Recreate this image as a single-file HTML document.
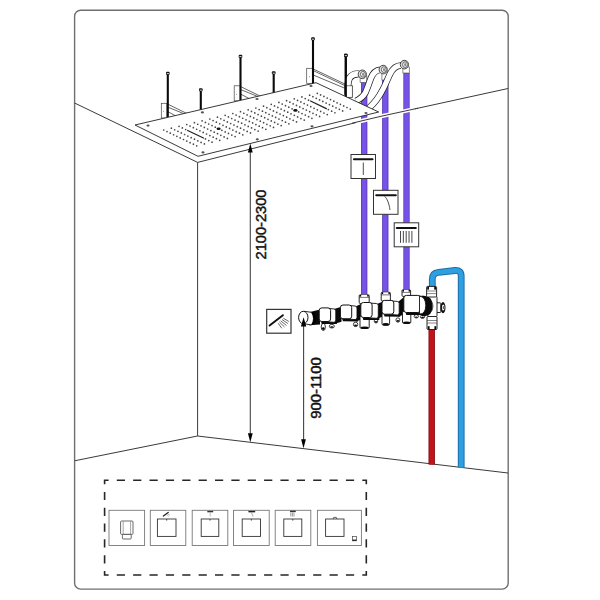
<!DOCTYPE html>
<html><head><meta charset="utf-8"><style>
html,body{margin:0;padding:0;background:#fff;}
svg{display:block;}
</style></head><body>
<svg width="600" height="600" viewBox="0 0 600 600">
<rect x="74.6" y="10.3" width="433.6" height="578.8" rx="6" ry="6" fill="none" stroke="#6f6f6f" stroke-width="1.4"/>
<g stroke="#3a3a3a" stroke-width="1" fill="none">
<polyline points="74.6,103 197.6,162.4 380,116.5 508,88.5"/>
<line x1="197.6" y1="162.4" x2="197.6" y2="436"/>
<polyline points="74.6,460.8 197.5,436 508,473"/>
</g>
<g stroke="#333" stroke-width="0.75" fill="none"><line x1="167.5" y1="104" x2="190" y2="115"/><line x1="167.5" y1="107" x2="189" y2="115.8"/><line x1="167.5" y1="111.5" x2="179.88" y2="118.05"/></g>
<rect x="161.3" y="103.3" width="5.5" height="14.7" fill="#fff" stroke="#444" stroke-width="0.7"/>
<circle cx="163.55" cy="111.65" r="0.45" fill="#333"/>
<line x1="167.8" y1="73" x2="167.8" y2="117" stroke="#0a0a0a" stroke-width="2.1" />
<rect x="166" y="71.8" width="3.6" height="3" rx="0.9" fill="#111"/>
<rect x="166.7" y="73.2" width="2.2" height="0.9" fill="#eee"/>
<line x1="200.8" y1="89.5" x2="200.8" y2="112" stroke="#0a0a0a" stroke-width="2.1" />
<rect x="199" y="88.3" width="3.6" height="3" rx="0.9" fill="#111"/>
<rect x="199.7" y="89.7" width="2.2" height="0.9" fill="#eee"/>
<g stroke="#333" stroke-width="0.75" fill="none"><line x1="240.5" y1="86.5" x2="262" y2="97"/><line x1="240.5" y1="89.5" x2="261" y2="97.8"/><line x1="240.5" y1="94" x2="252.32" y2="100.28"/></g>
<rect x="234.2" y="85.8" width="6" height="15" fill="#fff" stroke="#444" stroke-width="0.7"/>
<circle cx="236.7" cy="94.3" r="0.45" fill="#333"/>
<line x1="240.5" y1="56" x2="240.5" y2="100" stroke="#0a0a0a" stroke-width="2.1" />
<rect x="238.7" y="54.8" width="3.6" height="3" rx="0.9" fill="#111"/>
<rect x="239.4" y="56.2" width="2.2" height="0.9" fill="#eee"/>
<line x1="273.7" y1="72.5" x2="273.7" y2="95" stroke="#0a0a0a" stroke-width="2.1" />
<rect x="271.9" y="71.3" width="3.6" height="3" rx="0.9" fill="#111"/>
<rect x="272.6" y="72.7" width="2.2" height="0.9" fill="#eee"/>
<g stroke="#333" stroke-width="0.75" fill="none"><line x1="313.7" y1="69.2" x2="347" y2="85"/><line x1="313.7" y1="70.8" x2="347" y2="86.6"/><line x1="313.7" y1="75.2" x2="345.5" y2="88.5"/></g>
<rect x="306.7" y="68.3" width="6.5" height="15" fill="#fff" stroke="#444" stroke-width="0.7"/>
<circle cx="309.45" cy="76.8" r="0.45" fill="#333"/>
<line x1="313" y1="38.5" x2="313" y2="86" stroke="#0a0a0a" stroke-width="2.1" />
<rect x="311.2" y="37.3" width="3.6" height="3" rx="0.9" fill="#111"/>
<rect x="311.9" y="38.7" width="2.2" height="0.9" fill="#eee"/>
<rect x="346" y="85.8" width="6.3" height="11.5" fill="#fff" stroke="#444" stroke-width="0.7"/>
<line x1="345.8" y1="55" x2="345.8" y2="97" stroke="#0a0a0a" stroke-width="2.1" />
<rect x="344" y="53.8" width="3.6" height="3" rx="0.9" fill="#111"/>
<rect x="344.7" y="55.2" width="2.2" height="0.9" fill="#eee"/>
<rect x="361.05" y="82" width="6.3" height="214" fill="#5536b8"/>
<rect x="361.85" y="82" width="4.7" height="214" fill="#7652e6"/>
<rect x="382.15" y="80" width="6.3" height="213" fill="#5536b8"/>
<rect x="382.95" y="80" width="4.7" height="213" fill="#7652e6"/>
<rect x="403.35" y="72" width="6.3" height="218" fill="#5536b8"/>
<rect x="404.15" y="72" width="4.7" height="218" fill="#7652e6"/>
<rect x="360.1" y="76" width="6.8" height="6.5" fill="#fff" stroke="#444" stroke-width="0.6"/>
<line x1="366.6" y1="76" x2="366.6" y2="82.5" stroke="#999" stroke-width="0.9" />
<rect x="381.9" y="72" width="6.8" height="8" fill="#fff" stroke="#444" stroke-width="0.6"/>
<line x1="388.4" y1="72" x2="388.4" y2="80" stroke="#999" stroke-width="0.9" />
<rect x="402.9" y="67" width="6.8" height="6" fill="#fff" stroke="#444" stroke-width="0.6"/>
<line x1="409.4" y1="67" x2="409.4" y2="73" stroke="#999" stroke-width="0.9" />
<path d="M359,74 C355,73.6 351.5,75 349.5,78 C347.8,81 347.5,86 347.5,95" fill="none" stroke="#1a1a1a" stroke-width="7" stroke-linecap="butt" stroke-linejoin="round"/>
<path d="M359,74 C355,73.6 351.5,75 349.5,78 C347.8,81 347.5,86 347.5,95" fill="none" stroke="#fff" stroke-width="5.6" stroke-linecap="butt" stroke-linejoin="round"/>
<path d="M380,69.8 C376,70.3 373,73 371,78 C369,83 367.5,88 365.5,92.5 C363.5,96 360,99 356,101" fill="none" stroke="#1a1a1a" stroke-width="6.6" stroke-linecap="butt" stroke-linejoin="round"/>
<path d="M380,69.8 C376,70.3 373,73 371,78 C369,83 367.5,88 365.5,92.5 C363.5,96 360,99 356,101" fill="none" stroke="#fff" stroke-width="5.2" stroke-linecap="butt" stroke-linejoin="round"/>
<path d="M401,65.5 C396.5,65.5 393,68 390,74 C387.5,79 385,86 382,91 C379,97 375,102.5 369,108" fill="none" stroke="#1a1a1a" stroke-width="6.6" stroke-linecap="butt" stroke-linejoin="round"/>
<path d="M401,65.5 C396.5,65.5 393,68 390,74 C387.5,79 385,86 382,91 C379,97 375,102.5 369,108" fill="none" stroke="#fff" stroke-width="5.2" stroke-linecap="butt" stroke-linejoin="round"/>
<ellipse cx="362.3" cy="74.3" rx="4.1" ry="4.3" fill="#ddd" stroke="#333" stroke-width="0.9"/>
<ellipse cx="362.9" cy="74.3" rx="2.4" ry="2.8" fill="#fff" stroke="#555" stroke-width="0.9"/>
<ellipse cx="363.1" cy="74.3" rx="1.1" ry="1.6" fill="#888"/>
<ellipse cx="383.2" cy="69.6" rx="4.1" ry="4.3" fill="#ddd" stroke="#333" stroke-width="0.9"/>
<ellipse cx="383.8" cy="69.6" rx="2.4" ry="2.8" fill="#fff" stroke="#555" stroke-width="0.9"/>
<ellipse cx="384" cy="69.6" rx="1.1" ry="1.6" fill="#888"/>
<ellipse cx="404.4" cy="64.6" rx="4.1" ry="4.3" fill="#ddd" stroke="#333" stroke-width="0.9"/>
<ellipse cx="405" cy="64.6" rx="2.4" ry="2.8" fill="#fff" stroke="#555" stroke-width="0.9"/>
<ellipse cx="405.2" cy="64.6" rx="1.1" ry="1.6" fill="#888"/>
<rect x="346" y="85.8" width="6.3" height="11.5" fill="#fff" stroke="#444" stroke-width="0.7"/>
<line x1="345.8" y1="55" x2="345.8" y2="97" stroke="#0a0a0a" stroke-width="2.1" />
<rect x="344" y="53.8" width="3.6" height="3" rx="0.9" fill="#111"/>
<rect x="344.7" y="55.2" width="2.2" height="0.9" fill="#eee"/>
<polygon points="135,125 316,82.7 378.7,112 198,156.3" fill="#fff" stroke="#222" stroke-width="0.9"/>
<g fill="#474747"><circle cx="163.7" cy="130" r="0.85"/><circle cx="167" cy="131.58" r="0.85"/><circle cx="170.3" cy="133.16" r="0.85"/><circle cx="173.6" cy="134.74" r="0.85"/><circle cx="176.9" cy="136.32" r="0.85"/><circle cx="180.2" cy="137.9" r="0.85"/><circle cx="183.5" cy="139.48" r="0.85"/><circle cx="186.8" cy="141.06" r="0.85"/><circle cx="190.1" cy="142.64" r="0.85"/><circle cx="193.4" cy="144.22" r="0.85"/><circle cx="196.7" cy="145.8" r="0.85"/><circle cx="171.38" cy="128.16" r="0.85"/><circle cx="174.68" cy="129.75" r="0.85"/><circle cx="177.98" cy="131.32" r="0.85"/><circle cx="181.28" cy="132.91" r="0.85"/><circle cx="184.58" cy="134.48" r="0.85"/><circle cx="187.88" cy="136.06" r="0.85"/><circle cx="191.18" cy="137.65" r="0.85"/><circle cx="194.48" cy="139.22" r="0.85"/><circle cx="197.78" cy="140.81" r="0.85"/><circle cx="201.08" cy="142.38" r="0.85"/><circle cx="204.38" cy="143.97" r="0.85"/><circle cx="179.06" cy="126.33" r="0.85"/><circle cx="182.36" cy="127.91" r="0.85"/><circle cx="185.66" cy="129.49" r="0.85"/><circle cx="205.46" cy="138.97" r="0.85"/><circle cx="208.76" cy="140.55" r="0.85"/><circle cx="212.06" cy="142.13" r="0.85"/><circle cx="186.74" cy="124.5" r="0.85"/><circle cx="190.04" cy="126.08" r="0.85"/><circle cx="193.34" cy="127.66" r="0.85"/><circle cx="196.64" cy="129.24" r="0.85"/><circle cx="199.94" cy="130.81" r="0.85"/><circle cx="203.24" cy="132.4" r="0.85"/><circle cx="206.54" cy="133.98" r="0.85"/><circle cx="209.84" cy="135.56" r="0.85"/><circle cx="213.14" cy="137.14" r="0.85"/><circle cx="216.44" cy="138.72" r="0.85"/><circle cx="219.74" cy="140.3" r="0.85"/><circle cx="194.42" cy="122.66" r="0.85"/><circle cx="197.72" cy="124.24" r="0.85"/><circle cx="201.02" cy="125.82" r="0.85"/><circle cx="204.32" cy="127.4" r="0.85"/><circle cx="207.62" cy="128.98" r="0.85"/><circle cx="210.92" cy="130.56" r="0.85"/><circle cx="214.22" cy="132.14" r="0.85"/><circle cx="217.52" cy="133.72" r="0.85"/><circle cx="220.82" cy="135.3" r="0.85"/><circle cx="224.12" cy="136.88" r="0.85"/><circle cx="227.42" cy="138.46" r="0.85"/><circle cx="202.1" cy="120.83" r="0.85"/><circle cx="205.4" cy="122.41" r="0.85"/><circle cx="208.7" cy="123.98" r="0.85"/><circle cx="212" cy="125.57" r="0.85"/><circle cx="215.3" cy="127.15" r="0.85"/><circle cx="221.9" cy="130.31" r="0.85"/><circle cx="225.2" cy="131.89" r="0.85"/><circle cx="228.5" cy="133.47" r="0.85"/><circle cx="231.8" cy="135.05" r="0.85"/><circle cx="235.1" cy="136.62" r="0.85"/><circle cx="209.78" cy="118.99" r="0.85"/><circle cx="213.08" cy="120.57" r="0.85"/><circle cx="216.38" cy="122.15" r="0.85"/><circle cx="219.68" cy="123.73" r="0.85"/><circle cx="222.98" cy="125.31" r="0.85"/><circle cx="226.28" cy="126.89" r="0.85"/><circle cx="229.58" cy="128.47" r="0.85"/><circle cx="232.88" cy="130.05" r="0.85"/><circle cx="236.18" cy="131.63" r="0.85"/><circle cx="239.48" cy="133.21" r="0.85"/><circle cx="242.78" cy="134.79" r="0.85"/><circle cx="217.46" cy="117.16" r="0.85"/><circle cx="220.76" cy="118.73" r="0.85"/><circle cx="224.06" cy="120.31" r="0.85"/><circle cx="227.36" cy="121.9" r="0.85"/><circle cx="230.66" cy="123.48" r="0.85"/><circle cx="233.96" cy="125.06" r="0.85"/><circle cx="237.26" cy="126.64" r="0.85"/><circle cx="240.56" cy="128.22" r="0.85"/><circle cx="243.86" cy="129.8" r="0.85"/><circle cx="247.16" cy="131.38" r="0.85"/><circle cx="250.46" cy="132.96" r="0.85"/><circle cx="225.14" cy="115.32" r="0.85"/><circle cx="228.44" cy="116.9" r="0.85"/><circle cx="231.74" cy="118.48" r="0.85"/><circle cx="235.04" cy="120.06" r="0.85"/><circle cx="238.34" cy="121.64" r="0.85"/><circle cx="241.64" cy="123.22" r="0.85"/><circle cx="244.94" cy="124.8" r="0.85"/><circle cx="248.24" cy="126.38" r="0.85"/><circle cx="251.54" cy="127.96" r="0.85"/><circle cx="254.84" cy="129.54" r="0.85"/><circle cx="258.14" cy="131.12" r="0.85"/><circle cx="232.82" cy="113.48" r="0.85"/><circle cx="236.12" cy="115.06" r="0.85"/><circle cx="239.42" cy="116.64" r="0.85"/><circle cx="242.72" cy="118.23" r="0.85"/><circle cx="246.02" cy="119.81" r="0.85"/><circle cx="249.32" cy="121.39" r="0.85"/><circle cx="252.62" cy="122.97" r="0.85"/><circle cx="255.92" cy="124.55" r="0.85"/><circle cx="259.22" cy="126.13" r="0.85"/><circle cx="262.52" cy="127.71" r="0.85"/><circle cx="265.82" cy="129.29" r="0.85"/><circle cx="240.5" cy="111.65" r="0.85"/><circle cx="243.8" cy="113.23" r="0.85"/><circle cx="247.1" cy="114.81" r="0.85"/><circle cx="250.4" cy="116.39" r="0.85"/><circle cx="253.7" cy="117.97" r="0.85"/><circle cx="257" cy="119.55" r="0.85"/><circle cx="260.3" cy="121.13" r="0.85"/><circle cx="263.6" cy="122.71" r="0.85"/><circle cx="266.9" cy="124.29" r="0.85"/><circle cx="270.2" cy="125.87" r="0.85"/><circle cx="273.5" cy="127.45" r="0.85"/><circle cx="248.18" cy="109.81" r="0.85"/><circle cx="251.48" cy="111.39" r="0.85"/><circle cx="254.78" cy="112.97" r="0.85"/><circle cx="258.08" cy="114.56" r="0.85"/><circle cx="261.38" cy="116.14" r="0.85"/><circle cx="264.68" cy="117.72" r="0.85"/><circle cx="267.98" cy="119.3" r="0.85"/><circle cx="271.28" cy="120.88" r="0.85"/><circle cx="274.58" cy="122.46" r="0.85"/><circle cx="277.88" cy="124.04" r="0.85"/><circle cx="281.18" cy="125.62" r="0.85"/><circle cx="255.86" cy="107.98" r="0.85"/><circle cx="259.16" cy="109.56" r="0.85"/><circle cx="262.46" cy="111.14" r="0.85"/><circle cx="265.76" cy="112.72" r="0.85"/><circle cx="269.06" cy="114.3" r="0.85"/><circle cx="272.36" cy="115.88" r="0.85"/><circle cx="275.66" cy="117.46" r="0.85"/><circle cx="278.96" cy="119.04" r="0.85"/><circle cx="282.26" cy="120.62" r="0.85"/><circle cx="285.56" cy="122.2" r="0.85"/><circle cx="288.86" cy="123.78" r="0.85"/><circle cx="263.54" cy="106.14" r="0.85"/><circle cx="266.84" cy="107.72" r="0.85"/><circle cx="270.14" cy="109.3" r="0.85"/><circle cx="273.44" cy="110.89" r="0.85"/><circle cx="276.74" cy="112.47" r="0.85"/><circle cx="280.04" cy="114.05" r="0.85"/><circle cx="283.34" cy="115.62" r="0.85"/><circle cx="286.64" cy="117.2" r="0.85"/><circle cx="289.94" cy="118.79" r="0.85"/><circle cx="293.24" cy="120.37" r="0.85"/><circle cx="296.54" cy="121.95" r="0.85"/><circle cx="271.22" cy="104.31" r="0.85"/><circle cx="274.52" cy="105.89" r="0.85"/><circle cx="277.82" cy="107.47" r="0.85"/><circle cx="281.12" cy="109.05" r="0.85"/><circle cx="284.42" cy="110.63" r="0.85"/><circle cx="287.72" cy="112.21" r="0.85"/><circle cx="291.02" cy="113.79" r="0.85"/><circle cx="294.32" cy="115.37" r="0.85"/><circle cx="297.62" cy="116.95" r="0.85"/><circle cx="300.92" cy="118.53" r="0.85"/><circle cx="304.22" cy="120.11" r="0.85"/><circle cx="278.9" cy="102.47" r="0.85"/><circle cx="282.2" cy="104.05" r="0.85"/><circle cx="285.5" cy="105.63" r="0.85"/><circle cx="288.8" cy="107.22" r="0.85"/><circle cx="292.1" cy="108.8" r="0.85"/><circle cx="298.7" cy="111.95" r="0.85"/><circle cx="302" cy="113.53" r="0.85"/><circle cx="305.3" cy="115.12" r="0.85"/><circle cx="308.6" cy="116.7" r="0.85"/><circle cx="311.9" cy="118.28" r="0.85"/><circle cx="286.58" cy="100.64" r="0.85"/><circle cx="289.88" cy="102.22" r="0.85"/><circle cx="293.18" cy="103.8" r="0.85"/><circle cx="296.48" cy="105.38" r="0.85"/><circle cx="299.78" cy="106.96" r="0.85"/><circle cx="303.08" cy="108.54" r="0.85"/><circle cx="306.38" cy="110.12" r="0.85"/><circle cx="309.68" cy="111.7" r="0.85"/><circle cx="312.98" cy="113.28" r="0.85"/><circle cx="316.28" cy="114.86" r="0.85"/><circle cx="319.58" cy="116.44" r="0.85"/><circle cx="294.26" cy="98.8" r="0.85"/><circle cx="297.56" cy="100.38" r="0.85"/><circle cx="300.86" cy="101.96" r="0.85"/><circle cx="304.16" cy="103.55" r="0.85"/><circle cx="307.46" cy="105.12" r="0.85"/><circle cx="310.76" cy="106.7" r="0.85"/><circle cx="314.06" cy="108.28" r="0.85"/><circle cx="317.36" cy="109.86" r="0.85"/><circle cx="320.66" cy="111.45" r="0.85"/><circle cx="323.96" cy="113.03" r="0.85"/><circle cx="327.26" cy="114.61" r="0.85"/><circle cx="301.94" cy="96.97" r="0.85"/><circle cx="305.24" cy="98.55" r="0.85"/><circle cx="308.54" cy="100.13" r="0.85"/><circle cx="328.34" cy="109.61" r="0.85"/><circle cx="331.64" cy="111.19" r="0.85"/><circle cx="334.94" cy="112.77" r="0.85"/><circle cx="309.62" cy="95.13" r="0.85"/><circle cx="312.92" cy="96.71" r="0.85"/><circle cx="316.22" cy="98.29" r="0.85"/><circle cx="319.52" cy="99.88" r="0.85"/><circle cx="322.82" cy="101.45" r="0.85"/><circle cx="326.12" cy="103.03" r="0.85"/><circle cx="329.42" cy="104.61" r="0.85"/><circle cx="332.72" cy="106.19" r="0.85"/><circle cx="336.02" cy="107.78" r="0.85"/><circle cx="339.32" cy="109.36" r="0.85"/><circle cx="342.62" cy="110.94" r="0.85"/><circle cx="317.3" cy="93.3" r="0.85"/><circle cx="320.6" cy="94.88" r="0.85"/><circle cx="323.9" cy="96.46" r="0.85"/><circle cx="327.2" cy="98.04" r="0.85"/><circle cx="330.5" cy="99.62" r="0.85"/><circle cx="333.8" cy="101.2" r="0.85"/><circle cx="337.1" cy="102.78" r="0.85"/><circle cx="340.4" cy="104.36" r="0.85"/><circle cx="343.7" cy="105.94" r="0.85"/><circle cx="347" cy="107.52" r="0.85"/><circle cx="350.3" cy="109.1" r="0.85"/></g>
<line x1="187.64" y1="130.44" x2="203.48" y2="138.02" stroke="#222" stroke-width="1.2" stroke-linecap="round"/>
<line x1="310.52" y1="101.08" x2="326.36" y2="108.66" stroke="#222" stroke-width="1.2" stroke-linecap="round"/>
<ellipse cx="218.6" cy="128.73" rx="2.1" ry="1.3" fill="#111"/>
<ellipse cx="295.4" cy="110.38" rx="2.1" ry="1.3" fill="#111"/>
<ellipse cx="148" cy="125.6" rx="1.6" ry="1.1" fill="#555"/>
<ellipse cx="311" cy="86" rx="1.6" ry="1.1" fill="#555"/>
<ellipse cx="203" cy="152.4" rx="1.6" ry="1.1" fill="#555"/>
<ellipse cx="366" cy="113" rx="1.6" ry="1.1" fill="#555"/>
<ellipse cx="202.4" cy="112.4" rx="1.6" ry="1.1" fill="#555"/>
<ellipse cx="257" cy="99" rx="1.6" ry="1.1" fill="#555"/>
<ellipse cx="257.3" cy="139.3" rx="1.6" ry="1.1" fill="#555"/>
<ellipse cx="312" cy="126.3" rx="1.6" ry="1.1" fill="#555"/>
<polyline points="356,122.2 380,116.5 415,108.9" fill="none" stroke="#fff" stroke-width="4"/>
<polyline points="352,123.2 380,116.5 418,108.2" fill="none" stroke="#3a3a3a" stroke-width="1"/>
<rect x="351" y="154.5" width="24.5" height="24" fill="#fff" stroke="#333" stroke-width="1"/>
<line x1="354" y1="159.3" x2="372.5" y2="159.3" stroke="#111" stroke-width="2.1" stroke-linecap="round"/>
<line x1="363.3" y1="162.5" x2="363.3" y2="175" stroke="#222" stroke-width="0.8" />
<rect x="373.5" y="190.3" width="24.5" height="24" fill="#fff" stroke="#333" stroke-width="1"/>
<line x1="376.3" y1="195.2" x2="395.8" y2="195.2" stroke="#111" stroke-width="2.1" stroke-linecap="round"/>
<path d="M384.5,196.5 C387,198 389,203 390,210" fill="none" stroke="#222" stroke-width="0.8"/>
<rect x="394.2" y="222.8" width="24.5" height="24" fill="#fff" stroke="#333" stroke-width="1"/>
<line x1="396.8" y1="228" x2="415.8" y2="228" stroke="#111" stroke-width="2.1" stroke-linecap="round"/>
<line x1="400.5" y1="231" x2="400.5" y2="242.8" stroke="#333" stroke-width="0.9" />
<line x1="403.35" y1="231" x2="403.35" y2="242.8" stroke="#333" stroke-width="0.9" />
<line x1="406.2" y1="231" x2="406.2" y2="242.8" stroke="#333" stroke-width="0.9" />
<line x1="409.05" y1="231" x2="409.05" y2="242.8" stroke="#333" stroke-width="0.9" />
<line x1="411.9" y1="231" x2="411.9" y2="242.8" stroke="#333" stroke-width="0.9" />
<rect x="428.5" y="328" width="6.4" height="136.5" fill="#800a0e"/>
<rect x="429.3" y="328" width="4.8" height="136.5" fill="#c2131a"/>
<path d="M432.3,290 L432.3,279 Q432.3,273 438.5,272.3 L455,270.5 Q461.2,270 461.2,276 L461.2,467.5" fill="none" stroke="#1f6fa6" stroke-width="6.8"/>
<path d="M432.3,290 L432.3,279 Q432.3,273 438.5,272.3 L455,270.5 Q461.2,270 461.2,276 L461.2,467.5" fill="none" stroke="#2e9fe0" stroke-width="4.8"/>
<polygon points="309,312.2 320,309.6 320,324.4 309,325.2" fill="#0a0a0a"/>
<polygon points="334,309 341.5,306.8 341.5,321.8 334,324" fill="#0a0a0a"/>
<polygon points="356,306.2 361.5,303.8 361.5,319.5 356,321.5" fill="#0a0a0a"/>
<polygon points="377,304 383,301.6 383,316.4 377,318.8" fill="#0a0a0a"/>
<polygon points="398,302 404.5,296.6 404.5,314.4 398,316.6" fill="#0a0a0a"/>
<ellipse cx="323.3" cy="327" rx="2.1" ry="3.6" fill="#fff" stroke="#111" stroke-width="0.8"/>
<ellipse cx="323.3" cy="328.62" rx="1.37" ry="1.44" fill="#0a0a0a"/>
<ellipse cx="331.8" cy="326.2" rx="2.6" ry="1.8" fill="#fff" stroke="#111" stroke-width="0.8"/>
<ellipse cx="331.8" cy="327.01" rx="1.69" ry="0.72" fill="#0a0a0a"/>
<ellipse cx="355.6" cy="324.4" rx="2.2" ry="2.2" fill="#fff" stroke="#111" stroke-width="0.8"/>
<ellipse cx="355.6" cy="325.39" rx="1.43" ry="0.88" fill="#0a0a0a"/>
<rect x="360" y="316" width="9.2" height="12.3" rx="1.2" fill="#fff" stroke="#111" stroke-width="0.9"/>
<ellipse cx="364.6" cy="327.7" rx="4" ry="1.3" fill="#0a0a0a"/>
<ellipse cx="376" cy="321" rx="1.8" ry="2" fill="#fff" stroke="#111" stroke-width="0.8"/>
<ellipse cx="376" cy="321.9" rx="1.17" ry="0.8" fill="#0a0a0a"/>
<rect x="382" y="313.5" width="7.6" height="11.5" rx="1.2" fill="#fff" stroke="#111" stroke-width="0.9"/>
<ellipse cx="385.8" cy="324.4" rx="3.2" ry="1.3" fill="#0a0a0a"/>
<ellipse cx="397.9" cy="320" rx="2" ry="2.2" fill="#fff" stroke="#111" stroke-width="0.8"/>
<ellipse cx="397.9" cy="320.99" rx="1.3" ry="0.88" fill="#0a0a0a"/>
<rect x="402.5" y="311.5" width="8.3" height="11.8" rx="1.2" fill="#fff" stroke="#111" stroke-width="0.9"/>
<ellipse cx="406.65" cy="322.7" rx="3.55" ry="1.3" fill="#0a0a0a"/>
<ellipse cx="416.3" cy="316.3" rx="2.2" ry="1.7" fill="#fff" stroke="#111" stroke-width="0.8"/>
<ellipse cx="416.3" cy="317.06" rx="1.43" ry="0.68" fill="#0a0a0a"/>
<ellipse cx="422.5" cy="316.7" rx="2.2" ry="1.7" fill="#fff" stroke="#111" stroke-width="0.8"/>
<ellipse cx="422.5" cy="317.46" rx="1.43" ry="0.68" fill="#0a0a0a"/>
<rect x="359.2" y="294.8" width="10" height="8.7" rx="1" fill="#fff" stroke="#111" stroke-width="0.9"/>
<rect x="359.7" y="295" width="9" height="1.6" fill="#0a0a0a"/>
<rect x="361.2" y="294.8" width="6" height="2.2" fill="#fff"/>
<line x1="359.2" y1="297.4" x2="369.2" y2="297.4" stroke="#222" stroke-width="0.6" />
<polygon points="320.7,320.5 336.8,320 336.8,324.1 321.7,323.9" fill="#0a0a0a"/>
<path d="M328.6,308.5 L333.8,308.9 Q335.8,309.1 335.8,310.9 L335.8,320 Q335.8,322.3 333.8,322.3 L328.6,321.9 Z" fill="#fff" stroke="#111" stroke-width="0.9" stroke-linejoin="round"/>
<rect x="319.2" y="307.9" width="11.4" height="13.6" rx="2.6" fill="#fff" stroke="#111" stroke-width="1"/>
<polygon points="341.9,317.8 358,317.3 358,321.4 342.9,321.2" fill="#0a0a0a"/>
<path d="M349.7,305.6 L355,306 Q357,306.2 357,308 L357,317.3 Q357,319.6 355,319.6 L349.7,319.2 Z" fill="#fff" stroke="#111" stroke-width="0.9" stroke-linejoin="round"/>
<rect x="340.4" y="305" width="11.3" height="13.8" rx="2.6" fill="#fff" stroke="#111" stroke-width="1"/>
<polygon points="362.3,316.5 379.3,316 379.3,320.1 363.3,319.9" fill="#0a0a0a"/>
<path d="M370.1,303.1 L376.3,303.5 Q378.3,303.7 378.3,305.5 L378.3,316 Q378.3,318.3 376.3,318.3 L370.1,317.9 Z" fill="#fff" stroke="#111" stroke-width="0.9" stroke-linejoin="round"/>
<rect x="360.8" y="302.5" width="11.3" height="15" rx="2.6" fill="#fff" stroke="#111" stroke-width="1"/>
<rect x="381.2" y="292.3" width="9.2" height="8.7" rx="1" fill="#fff" stroke="#111" stroke-width="0.9"/>
<rect x="381.7" y="292.5" width="8.2" height="1.6" fill="#0a0a0a"/>
<rect x="383.2" y="292.3" width="5.2" height="2.2" fill="#fff"/>
<line x1="381.2" y1="294.9" x2="390.4" y2="294.9" stroke="#222" stroke-width="0.6" />
<polygon points="383.5,313.2 400.2,312.7 400.2,316.8 384.5,316.6" fill="#0a0a0a"/>
<path d="M391.8,301 L397.2,301.4 Q399.2,301.6 399.2,303.4 L399.2,312.7 Q399.2,315 397.2,315 L391.8,314.6 Z" fill="#fff" stroke="#111" stroke-width="0.9" stroke-linejoin="round"/>
<rect x="382" y="300.4" width="11.8" height="13.8" rx="2.6" fill="#fff" stroke="#111" stroke-width="1"/>
<rect x="402" y="289.8" width="8.6" height="6.6" rx="1" fill="#fff" stroke="#111" stroke-width="0.9"/>
<rect x="402.5" y="290" width="7.6" height="1.6" fill="#0a0a0a"/>
<rect x="404" y="289.8" width="4.6" height="2.2" fill="#fff"/>
<line x1="402" y1="292.4" x2="410.6" y2="292.4" stroke="#222" stroke-width="0.6" />
<polygon points="405.3,311.5 426.5,311 426.5,315.1 406.3,314.9" fill="#0a0a0a"/>
<path d="M418.4,296 L423.5,296.4 Q425.5,296.6 425.5,298.4 L425.5,311 Q425.5,313.3 423.5,313.3 L418.4,312.9 Z" fill="#fff" stroke="#111" stroke-width="0.9" stroke-linejoin="round"/>
<rect x="403.8" y="295.4" width="16.6" height="17.1" rx="2.6" fill="#fff" stroke="#111" stroke-width="1"/>
<rect x="436" y="302.8" width="4.8" height="9.7" rx="0.8" fill="#fff" stroke="#111" stroke-width="0.9"/>
<ellipse cx="443" cy="307.6" rx="2.5" ry="5.6" fill="#111"/>
<ellipse cx="443.2" cy="307.6" rx="1.3" ry="3" fill="#fff"/>
<ellipse cx="443.4" cy="307.6" rx="0.7" ry="1.5" fill="#555"/>
<rect x="427.8" y="296" width="9.2" height="21" rx="1.5" fill="#fff" stroke="#111" stroke-width="0.9"/>
<path d="M429,299 Q433,301 433,306 Q433,311 429,314" fill="none" stroke="#333" stroke-width="0.8"/>
<path d="M421.5,296 Q432.5,294.5 432.5,306 Q432.5,317.5 421.5,316 Z" fill="#0a0a0a"/>
<path d="M419.5,296.2 Q425.5,296.5 425.8,305.5 Q425.5,314.5 419.5,314 Z" fill="#fff" stroke="#111" stroke-width="0.9"/>
<path d="M304,311.3 L311.5,312.3 Q315.5,318.5 311.5,325 L304,323.7 Z" fill="#fff" stroke="#111" stroke-width="0.9"/>
<path d="M311.5,312.3 Q315.5,318.5 311.5,325 L314,325 Q318,318.5 314,312.2 Z" fill="#000"/>
<ellipse cx="303.3" cy="317.5" rx="4.7" ry="6.2" fill="#fff" stroke="#111" stroke-width="1"/>
<rect x="426.6" y="286.4" width="10" height="10.6" rx="1" fill="#fff" stroke="#111" stroke-width="0.9"/>
<line x1="426.6" y1="291" x2="436.6" y2="291" stroke="#333" stroke-width="0.6" />
<line x1="426.6" y1="293.6" x2="436.6" y2="293.6" stroke="#333" stroke-width="0.6" />
<rect x="427.2" y="286.6" width="1.8" height="3" fill="#0a0a0a"/><rect x="434.2" y="286.6" width="1.8" height="3" fill="#0a0a0a"/>
<rect x="427" y="316.5" width="10" height="13" rx="1" fill="#fff" stroke="#111" stroke-width="0.9"/>
<line x1="427" y1="320.5" x2="437" y2="320.5" stroke="#333" stroke-width="0.6" />
<line x1="427" y1="323" x2="437" y2="323" stroke="#333" stroke-width="0.6" />
<rect x="427.8" y="326.2" width="1.8" height="3.2" fill="#0a0a0a"/><rect x="434.4" y="326.2" width="1.8" height="3.2" fill="#0a0a0a"/>
<rect x="266.7" y="309.4" width="24.3" height="23.8" fill="#fff" stroke="#333" stroke-width="1.2"/>
<path d="M269.6,325.6 L282.9,315.2" stroke="#111" stroke-width="1.9" stroke-linecap="round"/>
<line x1="283.3" y1="318.2" x2="288.8" y2="321.5" stroke="#333" stroke-width="0.75" />
<line x1="282" y1="319.5" x2="287.8" y2="323.5" stroke="#333" stroke-width="0.75" />
<line x1="280.7" y1="320.8" x2="286.5" y2="325.5" stroke="#333" stroke-width="0.75" />
<line x1="279.4" y1="322" x2="284.5" y2="327" stroke="#333" stroke-width="0.75" />
<line x1="278.2" y1="323.2" x2="281.8" y2="328.3" stroke="#333" stroke-width="0.75" />
<line x1="250.3" y1="150" x2="250.3" y2="434" stroke="#444" stroke-width="1.1" />
<polygon points="247.9,152.5 252.7,152.5 250.3,143.6" fill="#000"/>
<polygon points="247.9,433.3 252.7,433.3 250.3,442.3" fill="#000"/>
<line x1="303.6" y1="324" x2="303.6" y2="440" stroke="#444" stroke-width="1.1" />
<polygon points="300.9,326.6 306.3,326.6 303.6,317.2" fill="#000"/>
<polygon points="301.1,439.2 305.9,439.2 303.5,448.2" fill="#000"/>
<text transform="translate(266.4,224.5) rotate(-90)" text-anchor="middle" font-family="Liberation Sans, sans-serif" font-size="14.3" textLength="70" lengthAdjust="spacingAndGlyphs" fill="#111" stroke="#111" stroke-width="0.45">2100-2300</text>
<text transform="translate(321,388) rotate(-90)" text-anchor="middle" font-family="Liberation Sans, sans-serif" font-size="14.5" textLength="61.5" lengthAdjust="spacingAndGlyphs" fill="#111" stroke="#111" stroke-width="0.45">900-1100</text>
<path d="M116.77,480.3L124.97,480.3M133.14,480.3L141.34,480.3M149.51,480.3L157.71,480.3M165.88,480.3L174.07,480.3M182.24,480.3L190.44,480.3M198.61,480.3L206.81,480.3M214.98,480.3L223.18,480.3M231.35,480.3L239.55,480.3M247.72,480.3L255.92,480.3M264.09,480.3L272.29,480.3M280.46,480.3L288.66,480.3M296.83,480.3L305.03,480.3M313.19,480.3L321.39,480.3M329.56,480.3L337.76,480.3M345.93,480.3L354.13,480.3M116.77,575L124.97,575M133.14,575L141.34,575M149.51,575L157.71,575M165.88,575L174.07,575M182.24,575L190.44,575M198.61,575L206.81,575M214.98,575L223.18,575M231.35,575L239.55,575M247.72,575L255.92,575M264.09,575L272.29,575M280.46,575L288.66,575M296.83,575L305.03,575M313.19,575L321.39,575M329.56,575L337.76,575M345.93,575L354.13,575M104.6,491.92L104.6,500.12M104.6,507.73L104.6,515.93M104.6,523.55L104.6,531.75M104.6,539.37L104.6,547.57M104.6,555.18L104.6,563.38M366.3,491.92L366.3,500.12M366.3,507.73L366.3,515.93M366.3,523.55L366.3,531.75M366.3,539.37L366.3,547.57M366.3,555.18L366.3,563.38M104.6,484.3L104.6,480.3L108.6,480.3M362.3,480.3L366.3,480.3L366.3,484.3M104.6,571L104.6,575L108.6,575M362.3,575L366.3,575L366.3,571" fill="none" stroke="#262626" stroke-width="1.6"/>
<rect x="109" y="510.3" width="35.6" height="35.2" fill="#fff" stroke="#777" stroke-width="0.9"/>
<rect x="150.3" y="510.3" width="35.5" height="35.2" fill="#fff" stroke="#777" stroke-width="0.9"/>
<rect x="192.2" y="510.3" width="35.6" height="35.2" fill="#fff" stroke="#777" stroke-width="0.9"/>
<rect x="233.5" y="510.3" width="35.7" height="35.2" fill="#fff" stroke="#777" stroke-width="0.9"/>
<rect x="275.2" y="510.3" width="35.6" height="35.2" fill="#fff" stroke="#777" stroke-width="0.9"/>
<rect x="317.4" y="510.3" width="44" height="35.2" fill="#fff" stroke="#777" stroke-width="0.9"/>
<rect x="120.6" y="521" width="12.4" height="13.4" rx="1" fill="#fff" stroke="#444" stroke-width="0.8"/>
<line x1="123.2" y1="521.5" x2="123.2" y2="534" stroke="#666" stroke-width="0.6" />
<line x1="130.6" y1="521.5" x2="130.6" y2="534" stroke="#666" stroke-width="0.6" />
<rect x="122.4" y="534.4" width="8.8" height="4.6" rx="0.8" fill="#fff" stroke="#444" stroke-width="0.8"/>
<rect x="157.4" y="519" width="18.6" height="17.4" fill="none" stroke="#333" stroke-width="0.9"/>
<line x1="166.7" y1="519" x2="166.7" y2="520.6" stroke="#333" stroke-width="0.9" />
<rect x="201.2" y="519" width="17.6" height="17.4" fill="none" stroke="#333" stroke-width="0.9"/>
<line x1="210" y1="519" x2="210" y2="520.6" stroke="#333" stroke-width="0.9" />
<rect x="242.2" y="519" width="18.3" height="17.4" fill="none" stroke="#333" stroke-width="0.9"/>
<line x1="251.35" y1="519" x2="251.35" y2="520.6" stroke="#333" stroke-width="0.9" />
<rect x="283.8" y="519" width="18" height="17.4" fill="none" stroke="#333" stroke-width="0.9"/>
<line x1="292.8" y1="519" x2="292.8" y2="520.6" stroke="#333" stroke-width="0.9" />
<rect x="325.6" y="519" width="18.4" height="17.4" fill="none" stroke="#333" stroke-width="0.9"/>
<line x1="163.4" y1="516" x2="168.2" y2="512.4" stroke="#222" stroke-width="1.3" stroke-linecap="round"/>
<line x1="167.5" y1="514" x2="169.8" y2="515.2" stroke="#777" stroke-width="0.5" />
<line x1="166.8" y1="514.8" x2="168.8" y2="516.4" stroke="#777" stroke-width="0.5" />
<line x1="207.3" y1="511.6" x2="213.2" y2="511.6" stroke="#333" stroke-width="1.4" />
<line x1="210.2" y1="512.5" x2="210.2" y2="516.5" stroke="#888" stroke-width="0.6" />
<line x1="248.4" y1="511.6" x2="255.2" y2="511.6" stroke="#222" stroke-width="1.5" />
<path d="M251.2,512.5 Q252.5,514 253,516.5" fill="none" stroke="#666" stroke-width="0.6"/>
<line x1="290" y1="511.4" x2="295.8" y2="511.4" stroke="#333" stroke-width="1.4" />
<line x1="290.8" y1="512.4" x2="290.8" y2="516.5" stroke="#555" stroke-width="0.6" />
<line x1="292.4" y1="512.4" x2="292.4" y2="516.5" stroke="#555" stroke-width="0.6" />
<line x1="294" y1="512.4" x2="294" y2="516.5" stroke="#555" stroke-width="0.6" />
<path d="M333,519 a2,1.8 0 0 1 4,0" fill="none" stroke="#333" stroke-width="0.8"/>
<rect x="352.4" y="536.4" width="4.2" height="4.4" fill="#fff" stroke="#444" stroke-width="0.7"/>
<line x1="352.6" y1="540.2" x2="356.4" y2="540.2" stroke="#111" stroke-width="1.2" />
</svg></body></html>
